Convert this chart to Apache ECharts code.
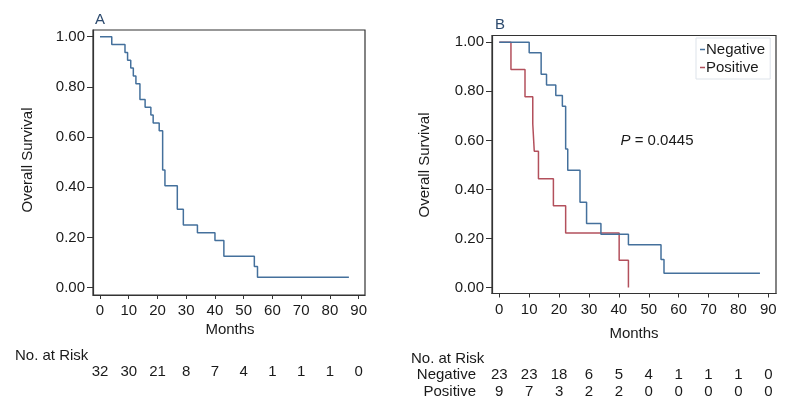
<!DOCTYPE html>
<html>
<head>
<meta charset="utf-8">
<script src="https://cdn.jsdelivr.net/npm/echarts@6/dist/echarts.min.js"></script>
<style>
html,body{margin:0;padding:0;background:#fff;}
#chart{width:800px;height:418px;}
</style>
</head>
<body>
<div id="chart"></div>
<script>
// ---- Data ----
var xTicks = [0, 10, 20, 30, 40, 50, 60, 70, 80, 90];
var yTicks = [0, 0.2, 0.4, 0.6, 0.8, 1.0];

// Panel A: overall KM curve (months, survival)
var timesA = [0, 4.1, 8.7, 9.6, 10.7, 11.6, 12.5, 13.9, 15.7, 17.7, 18.5, 20.6, 21.8, 22.6, 26.9, 29.0, 33.9, 40.0, 43.1, 53.7, 54.8, 86.6];
var survA  = [1.0, 0.969, 0.937, 0.906, 0.875, 0.843, 0.813, 0.750, 0.719, 0.688, 0.656, 0.625, 0.469, 0.406, 0.313, 0.250, 0.219, 0.188, 0.125, 0.084, 0.042, 0.042];
var riskA  = [32, 30, 21, 8, 7, 4, 1, 1, 1, 0];

// Panel B: Negative / Positive
var timesNeg = [0, 10.0, 14.0, 15.8, 18.9, 21.1, 22.2, 22.9, 27.0, 29.2, 34.0, 43.2, 54.1, 55.1, 87.2];
var survNeg  = [1.0, 0.957, 0.870, 0.826, 0.783, 0.739, 0.565, 0.478, 0.348, 0.261, 0.217, 0.174, 0.114, 0.058, 0.058];
var timesPos = [0, 3.9, 8.6, 11.2, 11.7, 13.1, 18.1, 22.2, 40.1, 43.2];
var survPos  = [1.0, 0.889, 0.778, 0.667, 0.556, 0.444, 0.333, 0.222, 0.111, 0.0];
var riskNeg  = [23, 23, 18, 6, 5, 4, 1, 1, 1, 0];
var riskPos  = [9, 7, 3, 2, 2, 0, 0, 0, 0, 0];
var groupNames = ['Negative', 'Positive'];
var pText = '0.0445';

// ---- Build ----
var FONT = '"Liberation Sans", Arial, sans-serif';
var TXT = '#1a1a1a';
var AX = '#333';
var BLUE = '#44709c';
var RED = '#b3505c';

function pairs(t, s) { return t.map(function (v, i) { return [v, s[i]]; }); }
function riskData(vals) { return xTicks.map(function (x, i) { return [x, 0.5, vals[i]]; }); }
function riskDataCat(vals, cat) { return xTicks.map(function (x, i) { return [x, cat, vals[i]]; }); }

function xAxisMain(gi, min, max, margin) {
  return {
    gridIndex: gi, type: 'value', min: min, max: max,
    axisLine: { show: true, onZero: false, lineStyle: { color: AX, width: 1.2 } },
    axisTick: { show: true, length: 4, customValues: xTicks, lineStyle: { color: AX } },
    axisLabel: { show: true, customValues: xTicks, margin: margin, color: TXT, fontSize: 15, fontFamily: FONT },
    splitLine: { show: false }
  };
}
function yAxisMain(gi, min, max) {
  return {
    gridIndex: gi, type: 'value', min: min, max: max,
    axisLine: { show: true, onZero: false, lineStyle: { color: AX, width: 1.2 } },
    axisTick: { show: true, length: 6, customValues: yTicks, lineStyle: { color: AX } },
    axisLabel: { show: true, customValues: yTicks, margin: 8, color: TXT, fontSize: 15, fontFamily: FONT,
      formatter: function (v) { return v.toFixed(2); } },
    splitLine: { show: false }
  };
}
var riskLabel = {
  show: true, position: 'inside', color: TXT, fontSize: 15, fontFamily: FONT, opacity: 1,
  formatter: function (p) { return String(p.value[2]); }
};

var option = {
  animation: false,
  backgroundColor: '#fff',
  grid: [
    { left: 93, top: 30, width: 272, height: 265, show: true, borderColor: AX, borderWidth: 1.2 },
    { left: 492, top: 35.5, width: 284, height: 258, show: true, borderColor: AX, borderWidth: 1.2 },
    { left: 93, top: 362, width: 272, height: 20 },
    { left: 492, top: 366.5, width: 284, height: 34 }
  ],
  xAxis: [
    xAxisMain(0, -2.43, 92.2, 8),
    xAxisMain(1, -2.44, 92.57, 9),
    { gridIndex: 2, type: 'value', min: -2.43, max: 92.2, show: false },
    { gridIndex: 3, type: 'value', min: -2.44, max: 92.57, show: false }
  ],
  yAxis: [
    yAxisMain(0, -0.0291, 1.0267),
    yAxisMain(1, -0.0245, 1.0278),
    { gridIndex: 2, type: 'value', min: 0, max: 1, show: false },
    { gridIndex: 3, type: 'category', data: groupNames, inverse: true,
      axisLine: { show: false }, axisTick: { show: false }, splitLine: { show: false },
      axisLabel: { show: true, interval: 0, hideOverlap: false, margin: 16, color: TXT, fontSize: 15, fontFamily: FONT } }
  ],
  legend: {
    data: groupNames,
    orient: 'vertical',
    left: 696, top: 38,
    icon: 'rect', itemWidth: 5, itemHeight: 1.5, itemGap: 3,
    padding: [4, 5, 4, 4],
    borderColor: '#dde3ea', borderWidth: 1,
    textStyle: { color: TXT, fontSize: 15, fontFamily: FONT, padding: [0, 0, 0, -4] },
    selectedMode: false
  },
  series: [
    { name: 'All', type: 'line', xAxisIndex: 0, yAxisIndex: 0, step: 'end', showSymbol: false,
      data: pairs(timesA, survA), lineStyle: { color: BLUE, width: 1.5 }, itemStyle: { color: BLUE } },
    { name: 'Positive', type: 'line', xAxisIndex: 1, yAxisIndex: 1, step: 'end', showSymbol: false,
      data: pairs(timesPos, survPos), lineStyle: { color: RED, width: 1.5 }, itemStyle: { color: RED } },
    { name: 'Negative', type: 'line', xAxisIndex: 1, yAxisIndex: 1, step: 'end', showSymbol: false,
      data: pairs(timesNeg, survNeg), lineStyle: { color: BLUE, width: 1.5 }, itemStyle: { color: BLUE } },
    { name: 'riskA', type: 'scatter', xAxisIndex: 2, yAxisIndex: 2, symbolSize: 2,
      itemStyle: { color: 'rgba(0,0,0,0)' }, label: riskLabel, labelLayout: { hideOverlap: false }, data: riskData(riskA) },
    { name: 'riskNeg', type: 'scatter', xAxisIndex: 3, yAxisIndex: 3, symbolSize: 2,
      itemStyle: { color: 'rgba(0,0,0,0)' }, label: riskLabel, data: riskDataCat(riskNeg, 'Negative') },
    { name: 'riskPos', type: 'scatter', xAxisIndex: 3, yAxisIndex: 3, symbolSize: 2,
      itemStyle: { color: 'rgba(0,0,0,0)' }, label: riskLabel, data: riskDataCat(riskPos, 'Positive') }
  ],
  graphic: [
    { type: 'text', x: 95, y: 20, style: { text: 'A', fontSize: 15, fontFamily: FONT, fill: '#2c4a6e', textAlign: 'left', textVerticalAlign: 'middle' } },
    { type: 'text', x: 495, y: 25, style: { text: 'B', fontSize: 15, fontFamily: FONT, fill: '#2c4a6e', textAlign: 'left', textVerticalAlign: 'middle' } },
    { type: 'text', x: 28, y: 160, rotation: Math.PI / 2, style: { text: 'Overall Survival', fontSize: 15, fontFamily: FONT, fill: TXT, textAlign: 'center', textVerticalAlign: 'middle' } },
    { type: 'text', x: 425, y: 165, rotation: Math.PI / 2, style: { text: 'Overall Survival', fontSize: 15, fontFamily: FONT, fill: TXT, textAlign: 'center', textVerticalAlign: 'middle' } },
    { type: 'text', x: 230, y: 330, style: { text: 'Months', fontSize: 15, fontFamily: FONT, fill: TXT, textAlign: 'center', textVerticalAlign: 'middle' } },
    { type: 'text', x: 634, y: 334, style: { text: 'Months', fontSize: 15, fontFamily: FONT, fill: TXT, textAlign: 'center', textVerticalAlign: 'middle' } },
    { type: 'text', x: 15, y: 356, style: { text: 'No. at Risk', fontSize: 15, fontFamily: FONT, fill: TXT, textAlign: 'left', textVerticalAlign: 'middle' } },
    { type: 'text', x: 411, y: 358.5, style: { text: 'No. at Risk', fontSize: 15, fontFamily: FONT, fill: TXT, textAlign: 'left', textVerticalAlign: 'middle' } },
    { type: 'text', x: 657, y: 141, style: { text: '{i|P} = ' + pText, fontSize: 15, fontFamily: FONT, fill: TXT, textAlign: 'center', textVerticalAlign: 'middle',
      rich: { i: { fontStyle: 'italic', fontSize: 15, fontFamily: FONT, fill: TXT } } } }
  ]
};

var chart = echarts.init(document.getElementById('chart'), null, { renderer: 'canvas' });
chart.setOption(option);
</script>
</body>
</html>
